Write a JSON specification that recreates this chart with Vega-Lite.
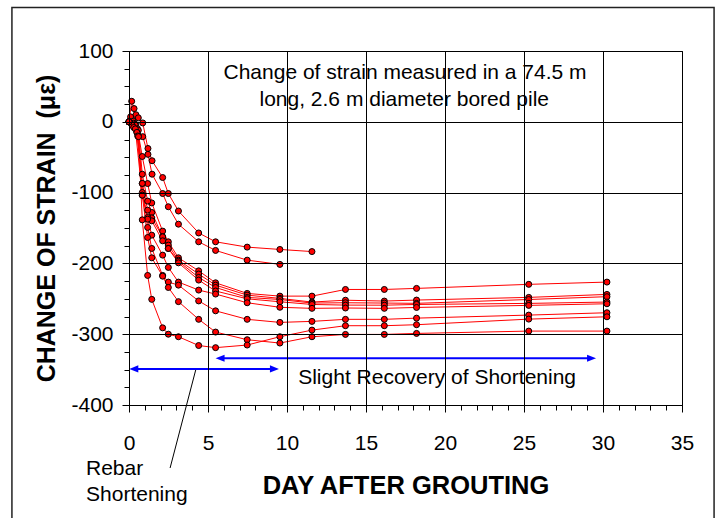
{
"$schema": "https://vega.github.io/schema/vega-lite/v6.json",
"width": 553, "height": 354,
"autosize": {"type": "none"},
"padding": {"left": 129, "top": 51, "right": 37, "bottom": 113},
"background": "white",
"config": {"view": {"stroke": "black", "strokeWidth": 1}, "font": "Liberation Sans"},
"resolve": {"axis": {"x": "independent", "y": "independent"}},
"data": {"values": [
{"s":"A","t":0,"v":0},{"s":"A","t":0.17,"v":29},{"s":"A","t":0.32,"v":18.7},{"s":"A","t":0.44,"v":10},{"s":"A","t":0.59,"v":5.6},{"s":"A","t":0.87,"v":-1.6},{"s":"A","t":1.2,"v":-37.7},{"s":"A","t":1.46,"v":-55},{"s":"A","t":2.13,"v":-78.7},{"s":"A","t":2.49,"v":-101.3},{"s":"A","t":3.13,"v":-126},{"s":"A","t":4.41,"v":-157},{"s":"A","t":5.48,"v":-169.5},{"s":"A","t":7.48,"v":-177},{"s":"A","t":9.55,"v":-180.3},{"s":"A","t":11.58,"v":-183.3},
{"s":"B","t":0,"v":0},{"s":"B","t":0.1,"v":7},{"s":"B","t":0.27,"v":0.8},{"s":"B","t":0.42,"v":-3.9},{"s":"B","t":0.59,"v":-20},{"s":"B","t":0.87,"v":-21},{"s":"B","t":1.2,"v":-46},{"s":"B","t":1.46,"v":-74},{"s":"B","t":2.13,"v":-101.3},{"s":"B","t":2.49,"v":-120},{"s":"B","t":3.13,"v":-144.6},{"s":"B","t":4.41,"v":-169.5},{"s":"B","t":5.48,"v":-181.7},{"s":"B","t":7.48,"v":-195.4},{"s":"B","t":9.55,"v":-201.4},
{"s":"C","t":0,"v":0},{"s":"C","t":0.3,"v":-2},{"s":"C","t":0.53,"v":-9.5},{"s":"C","t":0.84,"v":-49},{"s":"C","t":1.18,"v":-87.2},{"s":"C","t":1.44,"v":-114.6},{"s":"C","t":2.13,"v":-154.4},{"s":"C","t":2.49,"v":-169.5},{"s":"C","t":3.13,"v":-192.1},{"s":"C","t":4.41,"v":-210.5},{"s":"C","t":5.48,"v":-227.4},{"s":"C","t":7.48,"v":-242.4},{"s":"C","t":9.55,"v":-246.2},{"s":"C","t":11.58,"v":-246.2},{"s":"C","t":13.7,"v":-236.8},{"s":"C","t":16.16,"v":-236.8},{"s":"C","t":18.2,"v":-235.3},{"s":"C","t":25.3,"v":-229.6},{"s":"C","t":30.25,"v":-226.4},
{"s":"D","t":0,"v":0},{"s":"D","t":0.38,"v":-3.9},{"s":"D","t":0.59,"v":-12},{"s":"D","t":0.84,"v":-74},{"s":"D","t":1.18,"v":-112},{"s":"D","t":1.44,"v":-128},{"s":"D","t":2.13,"v":-162.5},{"s":"D","t":2.49,"v":-174.2},{"s":"D","t":3.13,"v":-195.4},{"s":"D","t":4.41,"v":-215},{"s":"D","t":5.48,"v":-230.7},{"s":"D","t":7.48,"v":-244.8},{"s":"D","t":9.55,"v":-249.4},{"s":"D","t":11.58,"v":-254.6},{"s":"D","t":13.7,"v":-252},{"s":"D","t":16.16,"v":-253.2},{"s":"D","t":18.2,"v":-251.8},{"s":"D","t":25.3,"v":-248},{"s":"D","t":30.25,"v":-243.8},
{"s":"E","t":0,"v":0},{"s":"E","t":0.2,"v":-5},{"s":"E","t":0.5,"v":-15},{"s":"E","t":0.84,"v":-87.2},{"s":"E","t":1.18,"v":-124.8},{"s":"E","t":1.44,"v":-135.7},{"s":"E","t":2.13,"v":-162.5},{"s":"E","t":2.49,"v":-178.9},{"s":"E","t":3.13,"v":-197},{"s":"E","t":4.41,"v":-219.8},{"s":"E","t":5.48,"v":-234},{"s":"E","t":7.48,"v":-248},{"s":"E","t":9.55,"v":-251},{"s":"E","t":11.58,"v":-256},{"s":"E","t":13.7,"v":-255.6},{"s":"E","t":16.16,"v":-256},{"s":"E","t":18.2,"v":-256.4},{"s":"E","t":25.3,"v":-251},{"s":"E","t":30.25,"v":-247},
{"s":"F","t":0,"v":0},{"s":"F","t":0.3,"v":-8},{"s":"F","t":0.6,"v":-20},{"s":"F","t":0.84,"v":-99.9},{"s":"F","t":1.18,"v":-135.1},{"s":"F","t":1.44,"v":-139.9},{"s":"F","t":2.13,"v":-168.1},{"s":"F","t":2.49,"v":-178.9},{"s":"F","t":3.13,"v":-199.2},{"s":"F","t":4.41,"v":-223.6},{"s":"F","t":5.48,"v":-239},{"s":"F","t":7.48,"v":-250},{"s":"F","t":9.55,"v":-254.2},{"s":"F","t":11.58,"v":-258},{"s":"F","t":13.7,"v":-258.9},{"s":"F","t":16.16,"v":-259},{"s":"F","t":18.2,"v":-258},{"s":"F","t":25.3,"v":-256.5},{"s":"F","t":30.25,"v":-254.6},
{"s":"P","t":0,"v":0},{"s":"P","t":0.4,"v":-10},{"s":"P","t":0.84,"v":-103.6},{"s":"P","t":1.18,"v":-137.5},{"s":"P","t":1.44,"v":-160.1},{"s":"P","t":2.13,"v":-188.3},{"s":"P","t":2.49,"v":-205.7},{"s":"P","t":3.13,"v":-226.4},{"s":"P","t":4.41,"v":-237.7},{"s":"P","t":5.48,"v":-243.3},{"s":"P","t":7.48,"v":-255.6},{"s":"P","t":9.55,"v":-262},{"s":"P","t":11.58,"v":-263.5},{"s":"P","t":13.7,"v":-263},{"s":"P","t":16.16,"v":-263.5},{"s":"P","t":18.2,"v":-262.2},{"s":"P","t":25.3,"v":-259.3},{"s":"P","t":30.25,"v":-257},
{"s":"N","t":0,"v":0},{"s":"N","t":0.5,"v":-15},{"s":"N","t":0.84,"v":-87},{"s":"N","t":1.18,"v":-149.2},{"s":"N","t":1.44,"v":-178.9},{"s":"N","t":2.13,"v":-217},{"s":"N","t":2.49,"v":-226.4},{"s":"N","t":3.13,"v":-230.7},{"s":"N","t":4.41,"v":-253},{"s":"N","t":5.48,"v":-267},{"s":"N","t":7.48,"v":-279},{"s":"N","t":9.55,"v":-283.3},{"s":"N","t":11.58,"v":-281.9},{"s":"N","t":13.7,"v":-279},{"s":"N","t":16.16,"v":-279},{"s":"N","t":18.2,"v":-277.3},{"s":"N","t":25.3,"v":-273},{"s":"N","t":30.25,"v":-269.7},
{"s":"M","t":0,"v":0},{"s":"M","t":0.55,"v":-20},{"s":"M","t":0.84,"v":-103.6},{"s":"M","t":1.18,"v":-163.4},{"s":"M","t":1.44,"v":-192.1},{"s":"M","t":2.13,"v":-218},{"s":"M","t":2.49,"v":-234},{"s":"M","t":3.13,"v":-254},{"s":"M","t":4.41,"v":-279},{"s":"M","t":5.48,"v":-297},{"s":"M","t":7.48,"v":-307.8},{"s":"M","t":9.55,"v":-312.5},{"s":"M","t":11.58,"v":-303.6},{"s":"M","t":13.7,"v":-300.3},{"s":"M","t":16.16,"v":-300.3},{"s":"M","t":18.2,"v":-298.9},{"s":"M","t":25.3,"v":-295.6},{"s":"M","t":30.25,"v":-295.6},
{"s":"L","t":0,"v":0},{"s":"L","t":0.6,"v":-21},{"s":"L","t":0.84,"v":-138.5},{"s":"L","t":1.18,"v":-217},{"s":"L","t":1.44,"v":-250.8},{"s":"L","t":2.13,"v":-291},{"s":"L","t":2.49,"v":-300},{"s":"L","t":3.13,"v":-303.6},{"s":"L","t":4.41,"v":-316},{"s":"L","t":5.48,"v":-319},{"s":"L","t":7.48,"v":-315.3},{"s":"L","t":9.55,"v":-303.6},{"s":"L","t":11.58,"v":-294.2},{"s":"L","t":13.7,"v":-288},{"s":"L","t":16.16,"v":-288},{"s":"L","t":18.2,"v":-286.6},{"s":"L","t":25.3,"v":-278.7},{"s":"L","t":30.25,"v":-275.4}
]},
"layer": [
{
 "mark": {"type": "line", "color": "#FF0000", "strokeWidth": 1, "opacity": 0},
 "encoding": {
  "x": {"field": "t", "type": "quantitative",
   "scale": {"domain": [0, 35], "nice": false, "zero": false},
   "axis": {
    "zindex": -1,
    "values": [0,1,2,3,4,5,6,7,8,9,10,11,12,13,14,15,16,17,18,19,20,21,22,23,24,25,26,27,28,29,30,31,32,33,34,35],
    "labelExpr": "datum.value % 5 === 0 ? '' + datum.value : ''",
    "labelFlush": false, "labelOverlap": false,
    "tickSize": {"condition": {"test": "datum.value % 5 === 0", "value": 7}, "value": 5},
    "grid": true, "gridColor": "black", "gridWidth": 1,
    "gridOpacity": {"condition": {"test": "datum.value % 5 === 0", "value": 1}, "value": 0},
    "domainColor": "black", "tickColor": "black", "tickWidth": 1,
    "labelFont": "Liberation Sans", "labelFontSize": 21, "labelColor": "black", "labelPadding": 20,
    "title": "DAY AFTER GROUTING", "titleFont": "Liberation Sans", "titleFontSize": 25.5, "titleFontWeight": "bold", "titleColor": "black",
    "titleY": 80, "titleBaseline": "middle"
   }},
  "y": {"field": "v", "type": "quantitative",
   "scale": {"domain": [-400, 100], "nice": false, "zero": false},
   "axis": {
    "zindex": -1,
    "values": [-400,-375,-350,-325,-300,-275,-250,-225,-200,-175,-150,-125,-100,-75,-50,-25,0,25,50,75,100],
    "labelExpr": "datum.value % 100 === 0 ? '' + datum.value : ''",
    "labelOverlap": false, "labelFlush": false,
    "tickSize": {"condition": {"test": "datum.value % 100 === 0", "value": 7}, "value": 5},
    "grid": true, "gridColor": "black", "gridWidth": 1,
    "gridOpacity": {"condition": {"test": "datum.value % 100 === 0", "value": 1}, "value": 0},
    "domainColor": "black", "tickColor": "black", "tickWidth": 1,
    "labelFont": "Liberation Sans", "labelFontSize": 21, "labelColor": "black", "labelPadding": 9,
    "title": "CHANGE OF STRAIN \u00a0(με)", "titleFont": "Liberation Sans", "titleFontSize": 25, "titleFontWeight": "bold", "titleColor": "black",
    "titleX": -83, "titleY": 177, "titleBaseline": "middle", "titleAlign": "center", "titleAngle": -90
   }},
  "detail": {"field": "s"}
 }
},
{
 "data": {"values": [{}]},
 "mark": {"type": "rect", "fill": "transparent", "stroke": "#222222", "strokeWidth": 1.5, "clip": false},
 "encoding": {
  "x": {"datum": -7.41, "type": "quantitative", "axis": null},
  "x2": {"datum": 37.03},
  "y": {"datum": 161.4, "type": "quantitative", "axis": null},
  "y2": {"datum": -590}
 }
},
{
 "data": {"values": [{}]},
 "mark": {"type": "rect", "fill": "white"},
 "encoding": {"x": {"datum": 5.25, "type": "quantitative", "axis": null}, "x2": {"datum": 29.87}, "y": {"datum": 98.8, "type": "quantitative", "axis": null}, "y2": {"datum": 3.5}}
},
{
 "mark": {"type": "line", "color": "#FF0000", "strokeWidth": 1},
 "encoding": {"x": {"field": "t", "type": "quantitative", "axis": null}, "y": {"field": "v", "type": "quantitative", "axis": null}, "detail": {"field": "s"}}
},
{
 "mark": {"type": "point", "filled": true, "fill": "#FF0000", "stroke": "#000000", "strokeWidth": 1, "size": 36, "opacity": 1, "shape": "circle"},
 "encoding": {"x": {"field": "t", "type": "quantitative", "axis": null}, "y": {"field": "v", "type": "quantitative", "axis": null}}
},
{
 "data": {"values": [{}]},
 "mark": {"type": "text", "font": "Liberation Sans", "fontSize": 21, "color": "black", "align": "center", "baseline": "alphabetic"},
 "encoding": {"x": {"datum": 17.47, "type": "quantitative", "axis": null}, "y": {"datum": 60.5, "type": "quantitative", "axis": null}, "text": {"value": "Change of strain measured in a 74.5 m"}}
},
{
 "data": {"values": [{}]},
 "mark": {"type": "text", "font": "Liberation Sans", "fontSize": 21, "color": "black", "align": "center", "baseline": "alphabetic"},
 "encoding": {"x": {"datum": 17.42, "type": "quantitative", "axis": null}, "y": {"datum": 22.3, "type": "quantitative", "axis": null}, "text": {"value": "long, 2.6 m diameter bored pile"}}
},
{
 "data": {"values": [{}]},
 "mark": {"type": "text", "font": "Liberation Sans", "fontSize": 21, "color": "black", "align": "center", "baseline": "alphabetic"},
 "encoding": {"x": {"datum": 19.5, "type": "quantitative", "axis": null}, "y": {"datum": -370, "type": "quantitative", "axis": null}, "text": {"value": "Slight Recovery of Shortening"}}
},
{
 "data": {"values": [{}]},
 "mark": {"type": "text", "font": "Liberation Sans", "fontSize": 21, "color": "black", "align": "left", "baseline": "alphabetic", "clip": false},
 "encoding": {"x": {"datum": -2.72, "type": "quantitative", "axis": null}, "y": {"datum": -499, "type": "quantitative", "axis": null}, "text": {"value": "Rebar"}}
},
{
 "data": {"values": [{}]},
 "mark": {"type": "text", "font": "Liberation Sans", "fontSize": 21, "color": "black", "align": "left", "baseline": "alphabetic", "clip": false},
 "encoding": {"x": {"datum": -2.72, "type": "quantitative", "axis": null}, "y": {"datum": -535, "type": "quantitative", "axis": null}, "text": {"value": "Shortening"}}
},
{
 "data": {"values": [{}]},
 "mark": {"type": "rule", "color": "black", "strokeWidth": 1, "clip": false},
 "encoding": {"x": {"datum": 2.6, "type": "quantitative", "axis": null}, "y": {"datum": -489, "type": "quantitative", "axis": null}, "x2": {"datum": 4.24}, "y2": {"datum": -349}}
},
{
 "data": {"values": [{}]},
 "mark": {"type": "rule", "color": "#0000FF", "strokeWidth": 2},
 "encoding": {"x": {"datum": 0.3, "type": "quantitative", "axis": null}, "x2": {"datum": 9.2}, "y": {"datum": -349, "type": "quantitative", "axis": null}}
},
{
 "data": {"values": [{}]},
 "mark": {"type": "rule", "color": "#0000FF", "strokeWidth": 2},
 "encoding": {"x": {"datum": 5.78, "type": "quantitative", "axis": null}, "x2": {"datum": 29.26}, "y": {"datum": -334, "type": "quantitative", "axis": null}}
},
{
 "data": {"values": [{}]},
 "mark": {"type": "point", "filled": true, "color": "#0000FF", "opacity": 1, "size": 36, "shape": "M 0 0 L 3 -1.2 L 3 1.2 Z"},
 "encoding": {"x": {"datum": 0.02, "type": "quantitative", "axis": null}, "y": {"datum": -349, "type": "quantitative", "axis": null}}
},
{
 "data": {"values": [{}]},
 "mark": {"type": "point", "filled": true, "color": "#0000FF", "opacity": 1, "size": 36, "shape": "M 0 0 L -3 -1.2 L -3 1.2 Z"},
 "encoding": {"x": {"datum": 9.49, "type": "quantitative", "axis": null}, "y": {"datum": -349, "type": "quantitative", "axis": null}}
},
{
 "data": {"values": [{}]},
 "mark": {"type": "point", "filled": true, "color": "#0000FF", "opacity": 1, "size": 36, "shape": "M 0 0 L 3 -1.2 L 3 1.2 Z"},
 "encoding": {"x": {"datum": 5.48, "type": "quantitative", "axis": null}, "y": {"datum": -334, "type": "quantitative", "axis": null}}
},
{
 "data": {"values": [{}]},
 "mark": {"type": "point", "filled": true, "color": "#0000FF", "opacity": 1, "size": 36, "shape": "M 0 0 L -3 -1.2 L -3 1.2 Z"},
 "encoding": {"x": {"datum": 29.56, "type": "quantitative", "axis": null}, "y": {"datum": -334, "type": "quantitative", "axis": null}}
}
]
}
